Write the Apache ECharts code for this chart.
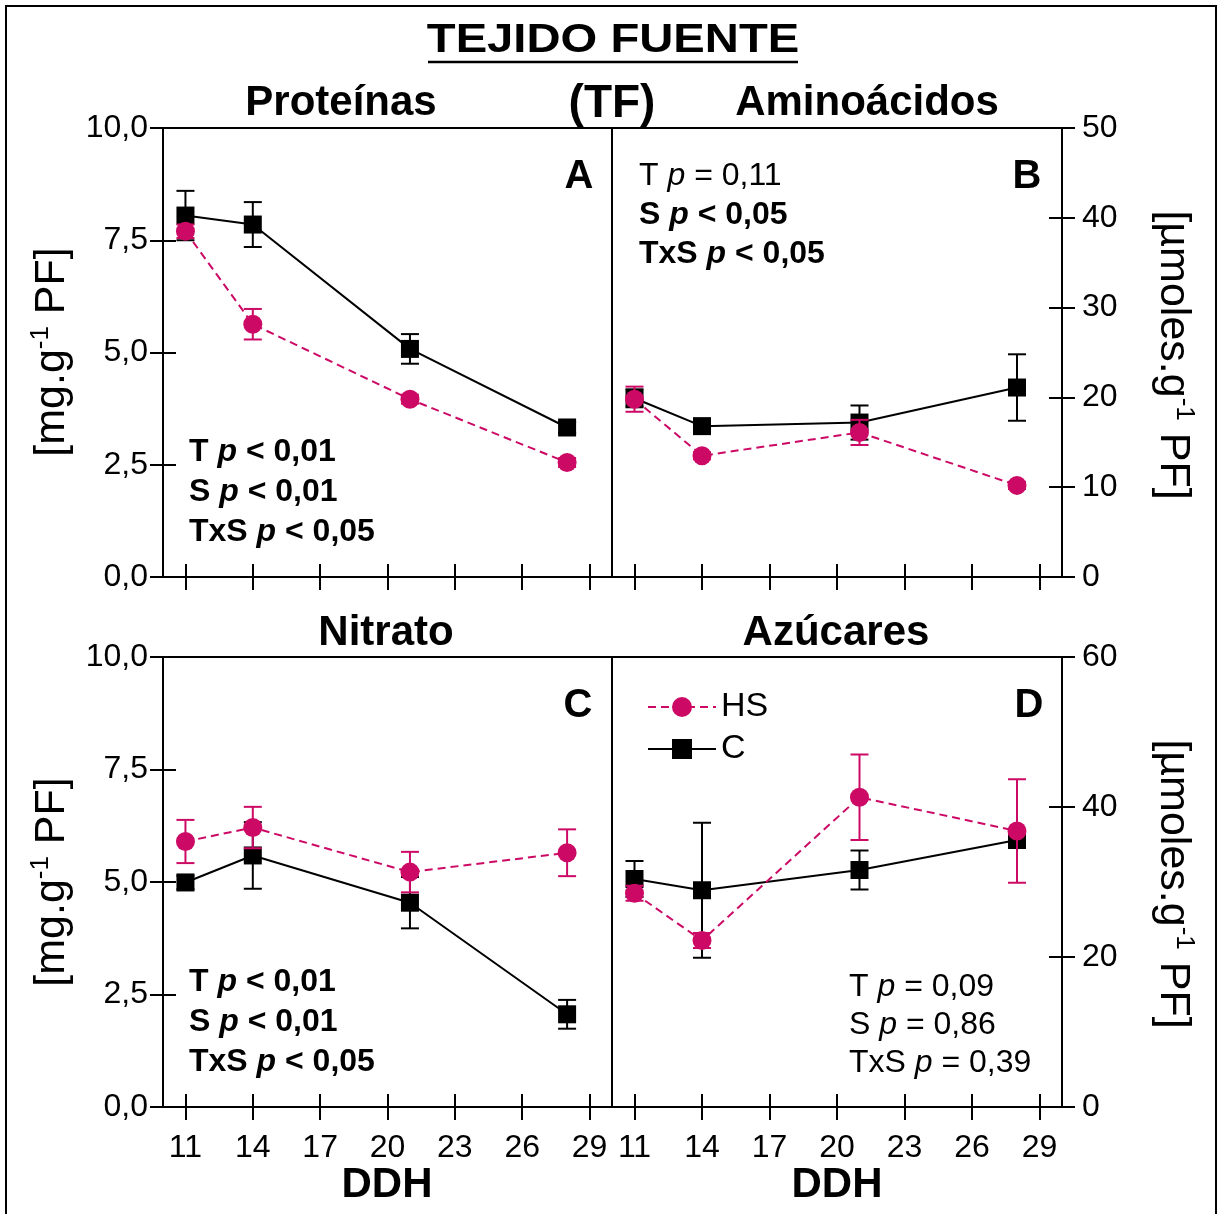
<!DOCTYPE html>
<html>
<head>
<meta charset="utf-8">
<script src="https://cdn.jsdelivr.net/npm/echarts@6/dist/echarts.min.js"></script>
<style>
  html, body { margin: 0; padding: 0; background: #fff; }
  #chart { width: 1222px; height: 1214px; }
</style>
</head>
<body>
<div id="chart"></div>
<script>
// días después de la hoja (DDH)
var days = [11, 14, 21, 28];
var xTicks = [11, 14, 17, 20, 23, 26, 29];

// A - Proteínas [mg.g-1 PF]
var protHS = [7.70, 5.63, 3.96, 2.55];
var protHSErr = [0.15, 0.34, 0.10, 0.10];
var protC = [8.05, 7.85, 5.08, 3.33];
var protCErr = [0.55, 0.50, 0.33, 0.12];

// B - Aminoácidos [µmoles.g-1 PF]
var aminoHS = [19.8, 13.5, 16.1, 10.2];
var aminoHSErr = [1.4, 0.4, 1.4, 0.4];
var aminoC = [19.9, 16.8, 17.2, 21.1];
var aminoCErr = [1.0, 0.5, 1.9, 3.7];

// C - Nitrato [mg.g-1 PF]
var nitHS = [5.90, 6.21, 5.22, 5.65];
var nitHSErr = [0.48, 0.46, 0.45, 0.52];
var nitC = [4.99, 5.59, 4.54, 2.06];
var nitCErr = [0.15, 0.74, 0.57, 0.32];

// D - Azúcares [µmoles.g-1 PF]
var azuHS = [28.5, 22.2, 41.3, 36.8];
var azuHSErr = [1.0, 1.0, 5.7, 6.9];
var azuC = [30.4, 28.9, 31.6, 35.6];
var azuCErr = [2.4, 9.0, 2.6, 1.0];

// estadística (factor, operador, valor) y si va en negrita
var statsA = [['T', '<', '0,01', true], ['S', '<', '0,01', true], ['TxS', '<', '0,05', true]];
var statsB = [['T', '=', '0,11', false], ['S', '<', '0,05', true], ['TxS', '<', '0,05', true]];
var statsC = [['T', '<', '0,01', true], ['S', '<', '0,01', true], ['TxS', '<', '0,05', true]];
var statsD = [['T', '=', '0,09', false], ['S', '=', '0,86', false], ['TxS', '=', '0,39', false]];

var FONT = 'Liberation Sans, Arial, Helvetica, sans-serif';
var MAG = '#cc0a66';

var chart = echarts.init(document.getElementById('chart'));

var grids = [
  {left: 163, top: 128, width: 449, height: 449},
  {left: 612, top: 128, width: 450, height: 449},
  {left: 163, top: 657, width: 449, height: 450},
  {left: 612, top: 657, width: 450, height: 450}
];
grids.forEach(function (g) {
  g.show = true;
  g.borderColor = '#000';
  g.borderWidth = 2;
  g.backgroundColor = 'transparent';
});

var tickStyle = {color: '#000', width: 2};

function xAxes(gi, showLabels) {
  var outer = {
    gridIndex: gi, type: 'value', min: 10, max: 30, position: 'bottom',
    splitLine: {show: false},
    axisLine: {show: true, onZero: false, lineStyle: {color: '#000', width: 2}},
    axisTick: {show: true, length: 13, customValues: xTicks, lineStyle: tickStyle},
    axisLabel: {show: showLabels, customValues: xTicks, margin: 25, fontSize: 32, color: '#000', fontFamily: FONT}
  };
  var inner = {
    gridIndex: gi, type: 'value', min: 10, max: 30, position: 'bottom',
    splitLine: {show: false},
    axisLine: {show: false, onZero: false},
    axisTick: {show: true, inside: true, length: 13, customValues: xTicks, lineStyle: tickStyle},
    axisLabel: {show: false}
  };
  return [outer, inner];
}

function yAxes(gi, pos, max, interval, fmt, margin) {
  var outer = {
    gridIndex: gi, type: 'value', min: 0, max: max, interval: interval, position: pos,
    splitLine: {show: false},
    axisLine: {show: true, onZero: false, lineStyle: {color: '#000', width: 2}},
    axisTick: {show: true, length: 13, lineStyle: tickStyle},
    axisLabel: {show: true, margin: margin, fontSize: 32, color: '#000', fontFamily: FONT, formatter: fmt}
  };
  var inner = {
    gridIndex: gi, type: 'value', min: 0, max: max, interval: interval, position: pos,
    splitLine: {show: false},
    axisLine: {show: false, onZero: false},
    axisTick: {show: true, inside: true, length: 13, lineStyle: tickStyle},
    axisLabel: {show: false}
  };
  return [outer, inner];
}

function comma(v) { return v.toFixed(1).replace('.', ','); }
function plain(v) { return String(v); }

var xAxis = [].concat(xAxes(0, false), xAxes(1, false), xAxes(2, true), xAxes(3, true));
var yAxis = [].concat(
  yAxes(0, 'left', 10, 2.5, comma, 15),
  yAxes(1, 'right', 50, 10, plain, 20),
  yAxes(2, 'left', 10, 2.5, comma, 15),
  yAxes(3, 'right', 60, 20, plain, 20)
);

function pairs(vals) {
  return days.map(function (d, i) { return [d, vals[i]]; });
}
function triples(vals, errs) {
  return days.map(function (d, i) { return [d, vals[i], errs[i]]; });
}

function errRender(color) {
  return function (params, api) {
    var x = api.value(0), y = api.value(1), e = api.value(2);
    var hi = api.coord([x, y + e]);
    var lo = api.coord([x, y - e]);
    var st = {stroke: color, lineWidth: 2};
    return {
      type: 'group',
      children: [
        {type: 'line', shape: {x1: hi[0], y1: hi[1], x2: lo[0], y2: lo[1]}, style: st},
        {type: 'line', shape: {x1: hi[0] - 9, y1: hi[1], x2: hi[0] + 9, y2: hi[1]}, style: st},
        {type: 'line', shape: {x1: lo[0] - 9, y1: lo[1], x2: lo[0] + 9, y2: lo[1]}, style: st}
      ]
    };
  };
}

function panelSeries(gi, hs, hsErr, c, cErr) {
  var ax = {xAxisIndex: 2 * gi, yAxisIndex: 2 * gi};
  return [
    Object.assign({
      type: 'custom', name: 'C err', z: 2, clip: false,
      renderItem: errRender('#000'), encode: {x: 0, y: 1},
      data: triples(c, cErr)
    }, ax),
    Object.assign({
      type: 'line', name: 'C', z: 3, clip: false,
      symbol: 'rect', symbolSize: 18, showAllSymbol: true,
      itemStyle: {color: '#000'},
      lineStyle: {color: '#000', width: 2, type: 'solid'},
      data: pairs(c)
    }, ax),
    Object.assign({
      type: 'custom', name: 'HS err', z: 4, clip: false,
      renderItem: errRender(MAG), encode: {x: 0, y: 1},
      data: triples(hs, hsErr)
    }, ax),
    Object.assign({
      type: 'line', name: 'HS', z: 5, clip: false,
      symbol: 'circle', symbolSize: 19, showAllSymbol: true,
      itemStyle: {color: MAG},
      lineStyle: {color: MAG, width: 2, type: [8, 5]},
      data: pairs(hs)
    }, ax)
  ];
}

var series = [].concat(
  panelSeries(0, protHS, protHSErr, protC, protCErr),
  panelSeries(1, aminoHS, aminoHSErr, aminoC, aminoCErr),
  panelSeries(2, nitHS, nitHSErr, nitC, nitCErr),
  panelSeries(3, azuHS, azuHSErr, azuC, azuCErr)
);

// textos
var richStats = {
  b: {fontFamily: FONT, fontSize: 32, fontWeight: 'bold', fill: '#000'},
  bi: {fontFamily: FONT, fontSize: 32, fontWeight: 'bold', fontStyle: 'italic', fill: '#000'},
  r: {fontFamily: FONT, fontSize: 32, fill: '#000'},
  ri: {fontFamily: FONT, fontSize: 32, fontStyle: 'italic', fill: '#000'}
};

function statTexts(stats, x, y0, step) {
  return stats.map(function (s, i) {
    var n = s[3] ? 'b' : 'r';
    return {
      type: 'text', x: x, y: y0 + i * step, z: 10,
      style: {
        text: '{' + n + '|' + s[0] + ' }{' + n + 'i|p}{' + n + '| ' + s[1] + ' ' + s[2] + '}',
        rich: richStats, align: 'left', verticalAlign: 'middle',
        textAlign: 'left', textVerticalAlign: 'middle'
      }
    };
  });
}

function label(text, x, y, size, bold, extra) {
  var el = {
    type: 'text', x: x, y: y, z: 10,
    style: {
      text: text, fontFamily: FONT, fontSize: size, fontWeight: bold ? 'bold' : 'normal', fill: '#000',
      align: 'center', verticalAlign: 'middle', textAlign: 'center', textVerticalAlign: 'middle'
    }
  };
  return Object.assign(el, extra || {});
}

function axisName(unit, x, y, rot) {
  return {
    type: 'text', x: x, y: y, rotation: rot, z: 10,
    style: {
      text: '{m|[' + unit + '.g}{s|-1}{m| PF]}',
      rich: {
        m: {fontFamily: FONT, fontSize: 43, fill: '#000', lineHeight: 48},
        s: {fontFamily: FONT, fontSize: 26, fill: '#000', verticalAlign: 'top', lineHeight: 48}
      },
      align: 'center', verticalAlign: 'middle', textAlign: 'center', textVerticalAlign: 'middle'
    }
  };
}

var graphic = [
  {type: 'rect', shape: {x: 6, y: 6, width: 1210, height: 1240}, style: {fill: 'none', stroke: '#000', lineWidth: 2}, z: 0},
  label('TEJIDO FUENTE', 613, 41, 40, true, {scaleX: 1.18}),
  {type: 'line', shape: {x1: 428, y1: 62, x2: 798, y2: 62}, style: {stroke: '#000', lineWidth: 2.5}, z: 10},
  label('Proteínas', 341, 103, 42, true),
  label('(TF)', 612, 104, 46, true),
  label('Aminoácidos', 867, 103, 42, true),
  label('Nitrato', 386, 633, 42, true),
  label('Azúcares', 836, 633, 42, true),
  label('A', 579, 177, 40, true),
  label('B', 1027, 177, 40, true),
  label('C', 578, 706, 40, true),
  label('D', 1029, 706, 40, true),
  label('DDH', 387, 1185, 42, true),
  label('DDH', 837, 1185, 42, true),
  axisName('mg', 52, 352, Math.PI / 2),
  axisName('µmoles', 1173, 355, -Math.PI / 2),
  axisName('mg', 52, 882, Math.PI / 2),
  axisName('µmoles', 1173, 884, -Math.PI / 2)
].concat(
  statTexts(statsA, 189, 452, 40),
  statTexts(statsB, 639, 176, 39),
  statTexts(statsC, 189, 982, 40),
  statTexts(statsD, 849, 987, 38)
);

chart.setOption({
  animation: false,
  backgroundColor: '#fff',
  grid: grids,
  xAxis: xAxis,
  yAxis: yAxis,
  series: series,
  legend: {
    data: ['HS', 'C'],
    orient: 'vertical',
    left: 642,
    top: 685,
    itemWidth: 68,
    itemHeight: 25,
    itemGap: 8,
    selectedMode: false,
    textStyle: {fontFamily: FONT, fontSize: 34, color: '#000', lineHeight: 25, padding: [0, 0, 0, 0]}
  },
  graphic: graphic
});
</script>
</body>
</html>
